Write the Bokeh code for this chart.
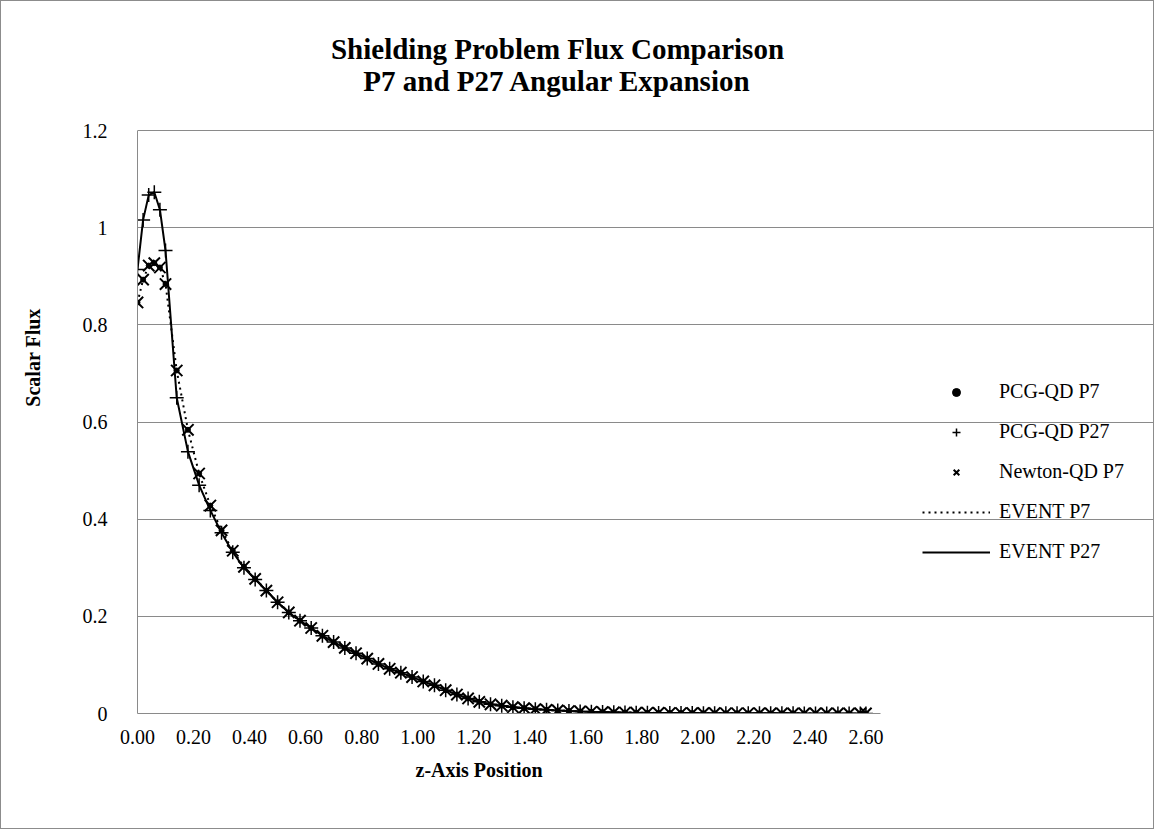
from bokeh.plotting import figure
from bokeh.models import Range1d, FixedTicker, NumeralTickFormatter, Legend, LegendItem, Title, Label
from bokeh.embed import file_html
from bokeh.resources import INLINE

# ---------------- data ----------------
z_position = [0.00, 0.02, 0.04, 0.06, 0.08, 0.10,
              0.14, 0.18, 0.22, 0.26, 0.30, 0.34, 0.38, 0.42, 0.46, 0.50,
              0.54, 0.58, 0.62, 0.66, 0.70, 0.74, 0.78, 0.82, 0.86, 0.90,
              0.94, 0.98, 1.02, 1.06, 1.10, 1.14, 1.18, 1.22, 1.26, 1.30,
              1.34, 1.38, 1.42, 1.46, 1.50, 1.54, 1.58, 1.62, 1.66, 1.70,
              1.74, 1.78, 1.82, 1.86, 1.90, 1.94, 1.98, 2.02, 2.06, 2.10,
              2.14, 2.18, 2.22, 2.26, 2.30, 2.34, 2.38, 2.42, 2.46, 2.50,
              2.54, 2.58, 2.60]

flux_p7 = [0.846, 0.893, 0.922, 0.927, 0.918, 0.884,
           0.706, 0.584, 0.494, 0.428, 0.377, 0.335, 0.302, 0.277, 0.253, 0.229,
           0.208, 0.191, 0.176, 0.160, 0.147, 0.135, 0.124, 0.113, 0.102, 0.092,
           0.084, 0.075, 0.066, 0.058, 0.048, 0.039, 0.031, 0.024, 0.019, 0.016,
           0.013, 0.011, 0.009, 0.0075, 0.0062, 0.0051, 0.0042, 0.0035, 0.0029, 0.0024,
           0.0020, 0.0017, 0.0014, 0.0012, 0.0010, 0.0009, 0.0008, 0.0007, 0.0006, 0.0005,
           0.0005, 0.0004, 0.0004, 0.0003, 0.0003, 0.0003, 0.0002, 0.0002, 0.0002, 0.0002,
           0.0001, 0.0001, 0.0001]

flux_p27 = [0.914, 1.016, 1.067, 1.073, 1.037, 0.953,
            0.650, 0.539, 0.470, 0.418, 0.372, 0.332, 0.300, 0.276, 0.253, 0.229,
            0.208, 0.191, 0.176, 0.160, 0.147, 0.135, 0.124, 0.113, 0.102, 0.092,
            0.084, 0.075, 0.066, 0.058, 0.048, 0.039, 0.031, 0.024, 0.019, 0.016,
            0.013, 0.011, 0.009, 0.0075, 0.0062, 0.0051, 0.0042, 0.0035, 0.0029, 0.0024,
            0.0020, 0.0017, 0.0014, 0.0012, 0.0010, 0.0009, 0.0008, 0.0007, 0.0006, 0.0005,
            0.0005, 0.0004, 0.0004, 0.0003, 0.0003, 0.0003, 0.0002, 0.0002, 0.0002, 0.0002,
            0.0001, 0.0001, 0.0001]

x_ticks = [0.0, 0.2, 0.4, 0.6, 0.8, 1.0, 1.2, 1.4, 1.6, 1.8, 2.0, 2.2, 2.4, 2.6]
y_ticks = [0.0, 0.2, 0.4, 0.6, 0.8, 1.0, 1.2]
x_axis_max = 2.652
y_axis_max = 1.2

series_labels = ["PCG-QD P7", "PCG-QD P27", "Newton-QD P7", "EVENT P7", "EVENT P27"]
title_lines = ["Shielding Problem Flux Comparison", "P7 and P27 Angular Expansion"]
x_title = "z-Axis Position"
y_title = "Scalar Flux"

# ---------------- layout (pixels) ----------------
W, H = 1154, 829
LEFT, TOP, RIGHT, BOTTOM = 136, 129, 879, 712      # plot area edges on the canvas
px_per_x = (RIGHT - LEFT) / x_axis_max
px_per_y = (BOTTOM - TOP) / y_axis_max

FONT = "Liberation Serif"
GRID = "#8a8a8a"

# The frame is extended up to the canvas top and right edge so that the title
# and legend (drawn inside the frame) are not clipped; grid/axes are bounded.
p = figure(width=W, height=H, output_backend="svg", toolbar_location=None,
           x_range=Range1d(0, (W - LEFT) / px_per_x),
           y_range=Range1d(0, BOTTOM / px_per_y),
           min_border_left=LEFT, min_border_right=0,
           min_border_top=0, min_border_bottom=H - BOTTOM)
p.title = None
p.outline_line_color = None
p.background_fill_color = "white"
p.border_fill_color = "white"
p.styles = {"border": "1px solid #8c8c8c"}

p.xaxis.ticker = FixedTicker(ticks=x_ticks)
p.xaxis.formatter = NumeralTickFormatter(format="0.00")
p.xaxis.bounds = (0, x_axis_max)
p.yaxis.ticker = FixedTicker(ticks=y_ticks)
p.yaxis.formatter = NumeralTickFormatter(format="0.[0]")
p.yaxis.bounds = (0, y_axis_max)
for ax in (p.xaxis, p.yaxis):
    ax.major_label_text_font = FONT
    ax.major_label_text_font_size = "20px"
    ax.major_label_text_color = "black"
    ax.axis_line_color = GRID
    ax.axis_line_width = 1
    ax.major_tick_line_color = None
    ax.minor_tick_line_color = None
p.xaxis.major_label_standoff = 10
p.yaxis.major_label_standoff = 24
p.yaxis.axis_label = y_title
p.yaxis.axis_label_text_font = FONT
p.yaxis.axis_label_text_font_size = "20px"
p.yaxis.axis_label_text_font_style = "bold"
p.yaxis.axis_label_text_color = "black"
p.yaxis.axis_label_standoff = 36

p.xgrid.visible = False
p.ygrid.ticker = FixedTicker(ticks=y_ticks)
p.ygrid.bounds = (0, x_axis_max)
p.ygrid.grid_line_color = GRID
p.ygrid.grid_line_width = 1

# lines
r_ev7 = p.line(z_position, flux_p7, line_color="black", line_width=2, line_dash="2 4")
r_ev27 = p.line(z_position, flux_p27, line_color="black", line_width=2)
# markers
r_newton = p.scatter(z_position, flux_p7, marker="x", size=16, line_color="black", line_width=2)
r_pcg27 = p.scatter(z_position, flux_p27, marker="cross", size=14, line_color="black", line_width=1.5)
r_pcg7 = p.scatter(z_position, flux_p7, marker="circle", size=5, fill_color="black", line_color="black")

legend = Legend(items=[
    LegendItem(label=series_labels[0], renderers=[r_pcg7]),
    LegendItem(label=series_labels[1], renderers=[r_pcg27]),
    LegendItem(label=series_labels[2], renderers=[r_newton]),
    LegendItem(label=series_labels[3], renderers=[r_ev7]),
    LegendItem(label=series_labels[4], renderers=[r_ev27]),
], location=(785, 150), orientation="vertical",
    glyph_width=68, glyph_height=20, label_height=20, label_standoff=9,
    spacing=17, padding=0, margin=0,
    border_line_color=None, background_fill_alpha=0,
    label_text_font=FONT, label_text_font_size="20px", label_text_color="black")
p.add_layout(legend)

# chart title (screen px relative to the frame's bottom-left corner)
for text, ty in ((title_lines[0], 665), (title_lines[1], 633)):
    p.add_layout(Label(x=420, y=ty, x_units="screen", y_units="screen", text=text,
                       text_font=FONT, text_font_size="29px", text_font_style="bold",
                       text_align="center", text_baseline="middle", text_color="black"))

tx = Title(text=x_title, align="left", offset=278, standoff=20,
           text_font=FONT, text_font_size="20px", text_font_style="bold", text_color="black")
p.add_layout(tx, "below")

open("out.html", "w").write(file_html(p, INLINE))
